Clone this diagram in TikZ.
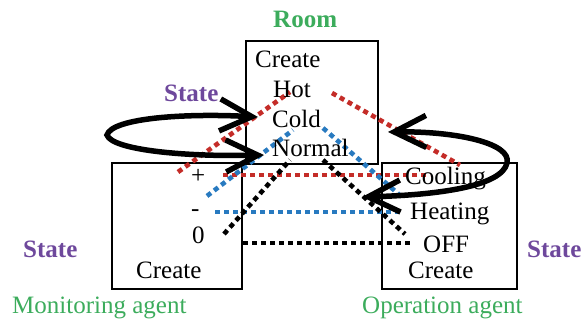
\documentclass[tikz,border=0pt]{standalone}
\usepackage{fontspec}
\setmainfont{Liberation Serif}
\usetikzlibrary{arrows.meta}
\definecolor{grn}{RGB}{60,172,92}
\definecolor{purp}{RGB}{110,72,156}
\definecolor{dred}{RGB}{196,44,40}
\definecolor{dblue}{RGB}{40,122,192}
\begin{document}
\begin{tikzpicture}[x=1pt,y=-1pt,
  txt/.style={font=\fontsize{25}{30}\selectfont, inner sep=0pt, anchor=base west},
  lbl/.style={txt, text=grn},
  stt/.style={txt, text=purp, font=\fontsize{25}{30}\selectfont\bfseries},
  box/.style={draw, line width=2.5pt, inner sep=0pt},
  dots/.style={line width=4.6pt, dash pattern=on 5pt off 4pt},
  arr/.style={line width=5.5pt, {Straight Barb[length=32pt,width=32pt]}-{Straight Barb[length=32pt,width=32pt]}}]
\useasboundingbox (0,0) rectangle (582,322);
% boxes
\node[box, minimum width=132pt, minimum height=123pt] (roombox) at (312,102.5) {};
\node[box, minimum width=130pt, minimum height=126pt] (monbox) at (177,226) {};
\node[box, minimum width=135pt, minimum height=126pt] (opbox) at (449.5,226) {};
% dotted lines
\draw[dots, dred] (178,172) -- (290,92);
\draw[dots, dred] (332,93) -- (460,165);
\draw[dots, dred] (223,175) -- (430,175);
\draw[dots, dblue] (207,196) -- (293,130);
\draw[dots, dblue] (323,128) -- (403,198);
\draw[dots, dblue] (215,212) -- (398,212);
\draw[dots, black] (224,234) -- (290,160);
\draw[dots, black] (323,160) -- (405,234);
\draw[dots, black] (243,243) -- (412,243);
% texts
\node[lbl, font=\fontsize{25}{30}\selectfont\bfseries] (room) at (273,27) {Room};
\node[txt] (rcreate) at (255,67) {Create};
\node[txt] (hot) at (273,97) {Hot};
\node[txt] (cold) at (272,127) {Cold};
\node[txt] (normal) at (272,156) {Normal};
\node[txt] (plus) at (191,183) {+};
\node[txt] (minus) at (191,216) {-};
\node[txt] (zero) at (192,243) {0};
\node[txt] (mcreate) at (136,278) {Create};
\node[txt] (cooling) at (405,184) {Cooling};
\node[txt] (heating) at (410,219) {Heating};
\node[txt] (off) at (423,252) {OFF};
\node[txt] (ocreate) at (408,278) {Create};
\node[lbl] (monag) at (12,313) {Monitoring agent};
\node[lbl] (opag) at (362,313) {Operation agent};
\node[stt] (st1) at (164,101) {State};
\node[stt] (st2) at (23,257) {State};
\node[stt] (st3) at (527,257) {State};
% arrow end points
\coordinate (tcold) at (258,117);
\coordinate (tnorm) at (264,155);
\coordinate (tright) at (388,132);
\coordinate (theat) at (362,197);
% arrows
\draw[arr] (tcold) .. controls (185,113) and (112,118) .. (107,135)
  .. controls (112,150) and (185,157) .. (tnorm);
\draw[arr] (tright) .. controls (455,131) and (512,143) .. (507,163)
  .. controls (502,186) and (440,195) .. (theat);
\end{tikzpicture}
\end{document}
